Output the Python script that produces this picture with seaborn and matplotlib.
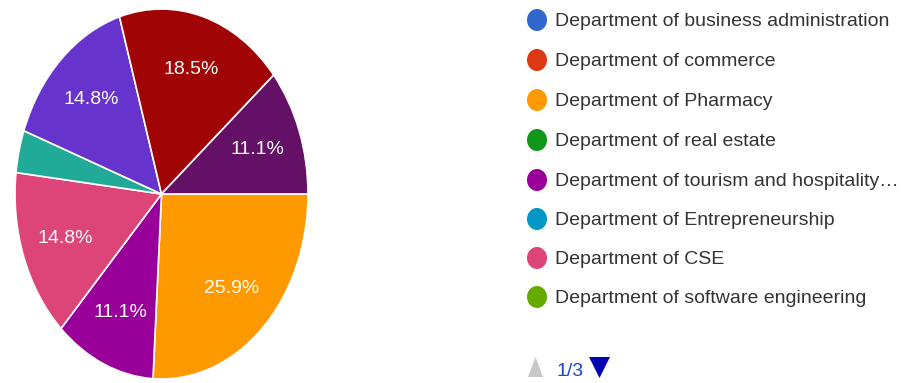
import matplotlib
matplotlib.use("Agg")
import matplotlib.pyplot as plt
from matplotlib.patches import Ellipse, Polygon
import seaborn as sns

# Responses per department (27 in total), in drawing order clockwise from 3 o'clock
slice_counts = [7, 3, 4, 1, 4, 5, 3]
slice_colors = ["#ff9900", "#990099", "#dd4477", "#22aa99",
                "#6633cc", "#a00404", "#651067"]

# First page of the legend
legend_labels = [
    "Department of business administration",
    "Department of commerce",
    "Department of Pharmacy",
    "Department of real estate",
    "Department of tourism and hospitality\u2026",
    "Department of Entrepreneurship",
    "Department of CSE",
    "Department of software engineering",
]
legend_colors = ["#3366cc", "#dc3912", "#ff9900", "#109618",
                 "#990099", "#0099c6", "#dd4477", "#66aa00"]
page_text = "1/3"

sns.set_style("white")
plt.rcParams["font.family"] = ["Liberation Sans", "DejaVu Sans"]

W, H = 906, 383
fig = plt.figure(figsize=(W / 100, H / 100), dpi=100)
fig.patch.set_facecolor("white")

# Pie (drawn in a slightly tall box, so it is an upright ellipse)
ax = fig.add_axes([15 / W, 4 / H, 293 / W, 370 / H])


def pct_label(p):
    return f"{p:.1f}%" if p >= 5 else ""


ax.pie(slice_counts, colors=slice_colors, startangle=0, counterclock=False,
       radius=1, autopct=pct_label, pctdistance=0.7,
       wedgeprops=dict(edgecolor="white", linewidth=1.2),
       textprops=dict(color="white", fontsize=14))
ax.set_aspect("auto")
ax.set_xlim(-1, 1)
ax.set_ylim(-1, 1)
ax.axis("off")

# Legend drawn in pixel coordinates
lg = fig.add_axes([0, 0, 1, 1])
lg.set_xlim(0, W)
lg.set_ylim(H, 0)
lg.axis("off")
lg.patch.set_alpha(0)

row_y = [20, 60, 100, 140, 180, 219, 258, 297]
for y, lab, col in zip(row_y, legend_labels, legend_colors):
    lg.add_patch(Ellipse((537, y), 20, 22, facecolor=col, edgecolor="none"))
    lg.text(555, y + 6, lab, fontsize=14, color="#333333",
            ha="left", va="baseline")

# Pager
lg.add_patch(Polygon([[528, 377], [543, 377], [535.5, 357]], closed=True,
                     facecolor="#c8c8c8", edgecolor="none"))
lg.text(556, 376, page_text, fontsize=14, color="#1a45c8",
        ha="left", va="baseline")
lg.add_patch(Polygon([[589, 357], [610, 357], [599.5, 378]], closed=True,
                     facecolor="#0505b0", edgecolor="none"))

fig.savefig("out.png", dpi=100, facecolor="white")
